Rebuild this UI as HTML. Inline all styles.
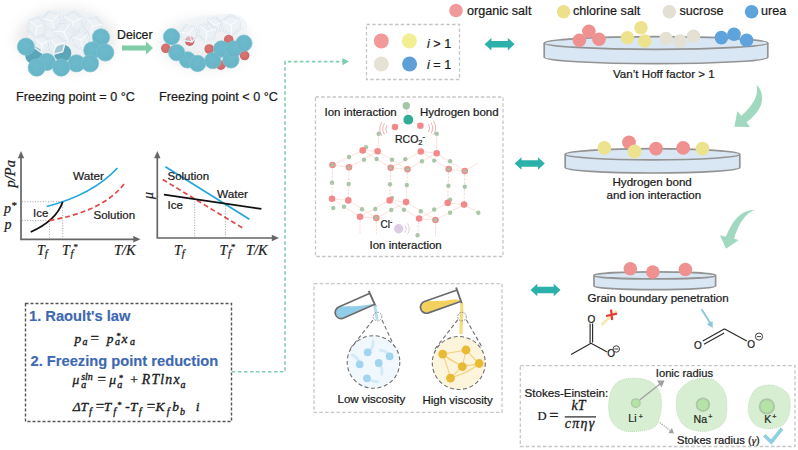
<!DOCTYPE html>
<html><head><meta charset="utf-8">
<style>
html,body{margin:0;padding:0;background:#fff;width:798px;height:450px;overflow:hidden}
svg{display:block}
text{font-family:"Liberation Sans",sans-serif;fill:#1a1a1a;stroke:#1a1a1a;stroke-width:0.22px}
.m{font-family:"Liberation Serif",serif;font-style:italic}
.mth text{stroke:#1a1a1a;stroke-width:0.35px}
</style></head><body>
<svg width="798" height="450" viewBox="0 0 798 450">
<defs>
<marker id="ga" viewBox="0 0 10 10" refX="9" refY="5" markerWidth="6" markerHeight="6" orient="auto"><path d="M0,0L10,5L0,10z" fill="#7fcfae"/></marker>
<filter id="blur6" x="-50%" y="-50%" width="200%" height="200%"><feGaussianBlur stdDeviation="6"/></filter>
<filter id="blur1" x="-20%" y="-20%" width="140%" height="140%"><feGaussianBlur stdDeviation="0.6"/></filter>
<radialGradient id="disc" cx="45%" cy="40%" r="65%"><stop offset="0" stop-color="#6cbacb"/><stop offset="0.85" stop-color="#67b5c6"/><stop offset="1" stop-color="#5aa6b8"/></radialGradient>
<radialGradient id="discb" cx="40%" cy="35%" r="70%"><stop offset="0" stop-color="#4f9fb2"/><stop offset="1" stop-color="#45909f"/></radialGradient>
<radialGradient id="red" cx="45%" cy="40%" r="65%"><stop offset="0" stop-color="#dc7676"/><stop offset="1" stop-color="#cc6464"/></radialGradient>
</defs>


<!-- ===== ice images ===== -->
<g filter="url(#blur6)" opacity="0.3">
<ellipse cx="66" cy="40" rx="50" ry="32" fill="#bdbdbd"/>
<ellipse cx="206" cy="44" rx="46" ry="26" fill="#c4c4c4"/>
</g>
<g id="ice1">
<path d="M28,30C27,18 42,10 58,10C74,8 92,11 101,19C107,28 104,44 96,52C84,59 50,59 37,54C30,48 29,38 28,30Z" fill="#edf2f6" opacity="0.8"/>
<circle cx="33.8" cy="55.4" r="8.6" fill="#5aa5b7"/>
<circle cx="62.7" cy="53.2" r="8.6" fill="#5aa5b7"/>
<path d="M44.7,33.4 L35.3,36.8 L27.6,30.4 L29.3,20.6 L38.7,17.2 L46.4,23.6Z" fill="#e9f0f5" fill-opacity="0.4" stroke="#c9d8e4" stroke-width="1.6"/><path d="M44.7,33.4 L35.3,36.8 L27.6,30.4 L29.3,20.6 L38.7,17.2 L46.4,23.6ZM37.0,27.0L35.3,36.8M37.0,27.0L29.3,20.6M37.0,27.0L46.4,23.6" stroke="#ffffff" stroke-width="0.8" fill="none"/>
<path d="M61.7,23.6 L54.6,30.7 L44.9,28.1 L42.3,18.4 L49.4,11.3 L59.1,13.9Z" fill="#e9f0f5" fill-opacity="0.5" stroke="#c9d8e4" stroke-width="1.6"/><path d="M61.7,23.6 L54.6,30.7 L44.9,28.1 L42.3,18.4 L49.4,11.3 L59.1,13.9ZM52.0,21.0L54.6,30.7M52.0,21.0L42.3,18.4M52.0,21.0L59.1,13.9" stroke="#ffffff" stroke-width="0.8" fill="none"/>
<path d="M81.6,28.0 L72.1,32.5 L63.5,26.4 L64.4,16.0 L73.9,11.5 L82.5,17.6Z" fill="#e9f0f5" fill-opacity="0.5" stroke="#c9d8e4" stroke-width="1.6"/><path d="M81.6,28.0 L72.1,32.5 L63.5,26.4 L64.4,16.0 L73.9,11.5 L82.5,17.6ZM73.0,22.0L72.1,32.5M73.0,22.0L64.4,16.0M73.0,22.0L82.5,17.6" stroke="#ffffff" stroke-width="0.8" fill="none"/>
<path d="M99.1,33.3 L89.8,34.9 L83.6,27.6 L86.9,18.7 L96.2,17.1 L102.4,24.4Z" fill="#e9f0f5" fill-opacity="0.4" stroke="#c9d8e4" stroke-width="1.6"/><path d="M99.1,33.3 L89.8,34.9 L83.6,27.6 L86.9,18.7 L96.2,17.1 L102.4,24.4ZM93.0,26.0L89.8,34.9M93.0,26.0L86.9,18.7M93.0,26.0L102.4,24.4" stroke="#ffffff" stroke-width="0.8" fill="none"/>
<path d="M74.5,32.9 L68.4,41.5 L58.0,40.6 L53.5,31.1 L59.6,22.5 L70.0,23.4Z" fill="#e9f0f5" fill-opacity="0.5" stroke="#c9d8e4" stroke-width="1.6"/><path d="M74.5,32.9 L68.4,41.5 L58.0,40.6 L53.5,31.1 L59.6,22.5 L70.0,23.4ZM64.0,32.0L68.4,41.5M64.0,32.0L53.5,31.1M64.0,32.0L70.0,23.4" stroke="#ffffff" stroke-width="0.8" fill="none"/>
<path d="M62.7,51.7 L53.5,54.2 L46.8,47.5 L49.3,38.3 L58.5,35.8 L65.2,42.5Z" fill="#e9f0f5" fill-opacity="0.5" stroke="#c9d8e4" stroke-width="1.6"/><path d="M62.7,51.7 L53.5,54.2 L46.8,47.5 L49.3,38.3 L58.5,35.8 L65.2,42.5ZM56.0,45.0L53.5,54.2M56.0,45.0L49.3,38.3M56.0,45.0L65.2,42.5" stroke="#ffffff" stroke-width="0.8" fill="none"/>
<path d="M89.5,43.1 L82.6,48.9 L74.1,45.8 L72.5,36.9 L79.4,31.1 L87.9,34.2Z" fill="#e9f0f5" fill-opacity="0.5" stroke="#c9d8e4" stroke-width="1.6"/><path d="M89.5,43.1 L82.6,48.9 L74.1,45.8 L72.5,36.9 L79.4,31.1 L87.9,34.2ZM81.0,40.0L82.6,48.9M81.0,40.0L72.5,36.9M81.0,40.0L87.9,34.2" stroke="#ffffff" stroke-width="0.8" fill="none"/>
<path d="M49.0,48.9 L41.3,52.5 L34.3,47.6 L35.0,39.1 L42.7,35.5 L49.7,40.4Z" fill="#e9f0f5" fill-opacity="0.35" stroke="#c9d8e4" stroke-width="1.6"/><path d="M49.0,48.9 L41.3,52.5 L34.3,47.6 L35.0,39.1 L42.7,35.5 L49.7,40.4ZM42.0,44.0L41.3,52.5M42.0,44.0L35.0,39.1M42.0,44.0L49.7,40.4" stroke="#ffffff" stroke-width="0.8" fill="none"/>
<circle cx="101" cy="37.3" r="8.6" fill="url(#disc)" stroke="#80c3d2" stroke-width="0.7"/>
<circle cx="92.3" cy="50.3" r="8.6" fill="url(#disc)" stroke="#80c3d2" stroke-width="0.7"/>
<circle cx="105.3" cy="52.5" r="8.6" fill="url(#disc)" stroke="#80c3d2" stroke-width="0.7"/>
<circle cx="25.9" cy="46.7" r="8.6" fill="url(#disc)" stroke="#80c3d2" stroke-width="0.7"/>
<circle cx="46.8" cy="61.9" r="8.6" fill="url(#disc)" stroke="#80c3d2" stroke-width="0.7"/>
<circle cx="36.7" cy="67.6" r="8.6" fill="url(#disc)" stroke="#80c3d2" stroke-width="0.7"/>
<circle cx="76.4" cy="63.3" r="8.6" fill="url(#disc)" stroke="#80c3d2" stroke-width="0.7"/>
<circle cx="90.1" cy="63.3" r="8.6" fill="url(#disc)" stroke="#80c3d2" stroke-width="0.7"/>
<circle cx="61.2" cy="67.6" r="8.6" fill="url(#disc)" stroke="#80c3d2" stroke-width="0.7"/>
</g><g id="ice2">
<path d="M178,30C182,19 200,15 215,15C228,12 242,14 246,21C250,31 240,41 230,45C215,54 190,54 180,45C176,40 176,34 178,30Z" fill="#eef3f7" opacity="0.7"/>
<circle cx="189.7" cy="41.1" r="4.8" fill="url(#red)"/><circle cx="209.2" cy="49" r="4.8" fill="url(#red)"/><circle cx="228.7" cy="39.6" r="4.8" fill="url(#red)"/>
<path d="M219.7,30.7 L211.9,32.7 L206.3,27.1 L208.3,19.3 L216.1,17.3 L221.7,22.9Z" fill="#e9f0f5" fill-opacity="0.35" stroke="#c9d8e4" stroke-width="1.6"/><path d="M219.7,30.7 L211.9,32.7 L206.3,27.1 L208.3,19.3 L216.1,17.3 L221.7,22.9ZM214.0,25.0L211.9,32.7M214.0,25.0L208.3,19.3M214.0,25.0L221.7,22.9" stroke="#ffffff" stroke-width="0.8" fill="none"/>
<path d="M197.9,35.1 L192.1,42.0 L183.2,40.4 L180.1,31.9 L185.9,25.0 L194.8,26.6Z" fill="#e9f0f5" fill-opacity="0.5" stroke="#c9d8e4" stroke-width="1.6"/><path d="M197.9,35.1 L192.1,42.0 L183.2,40.4 L180.1,31.9 L185.9,25.0 L194.8,26.6ZM189.0,33.5L192.1,42.0M189.0,33.5L180.1,31.9M189.0,33.5L194.8,26.6" stroke="#ffffff" stroke-width="0.8" fill="none"/>
<path d="M214.3,38.1 L205.4,41.4 L198.1,35.2 L199.7,25.9 L208.6,22.6 L215.9,28.8Z" fill="#e9f0f5" fill-opacity="0.5" stroke="#c9d8e4" stroke-width="1.6"/><path d="M214.3,38.1 L205.4,41.4 L198.1,35.2 L199.7,25.9 L208.6,22.6 L215.9,28.8ZM207.0,32.0L205.4,41.4M207.0,32.0L199.7,25.9M207.0,32.0L215.9,28.8" stroke="#ffffff" stroke-width="0.8" fill="none"/>
<path d="M240.1,29.2 L231.9,35.0 L222.8,30.7 L221.9,20.8 L230.1,15.0 L239.2,19.3Z" fill="#e9f0f5" fill-opacity="0.5" stroke="#c9d8e4" stroke-width="1.6"/><path d="M240.1,29.2 L231.9,35.0 L222.8,30.7 L221.9,20.8 L230.1,15.0 L239.2,19.3ZM231.0,25.0L231.9,35.0M231.0,25.0L221.9,20.8M231.0,25.0L239.2,19.3" stroke="#ffffff" stroke-width="0.8" fill="none"/>
<circle cx="165.8" cy="48.3" r="4.8" fill="url(#red)"/>
<circle cx="244.6" cy="55.5" r="4.8" fill="url(#red)"/>
<circle cx="220.8" cy="65.2" r="4.8" fill="url(#red)"/>
<circle cx="187.5" cy="59.9" r="8.2" fill="url(#disc)" stroke="#80c3d2" stroke-width="0.7"/>
<circle cx="171.6" cy="36.7" r="8.2" fill="url(#disc)" stroke="#80c3d2" stroke-width="0.7"/>
<circle cx="176.7" cy="52.6" r="8.2" fill="url(#disc)" stroke="#80c3d2" stroke-width="0.7"/>
<circle cx="197.6" cy="63.5" r="8.2" fill="url(#disc)" stroke="#80c3d2" stroke-width="0.7"/>
<circle cx="221.5" cy="49" r="8.2" fill="url(#disc)" stroke="#80c3d2" stroke-width="0.7"/>
<circle cx="212.8" cy="60.6" r="8.2" fill="url(#disc)" stroke="#80c3d2" stroke-width="0.7"/>
<circle cx="230.9" cy="59.9" r="8.2" fill="url(#disc)" stroke="#80c3d2" stroke-width="0.7"/>
<circle cx="233.8" cy="49" r="8.2" fill="url(#disc)" stroke="#80c3d2" stroke-width="0.7"/>
<circle cx="243.9" cy="43.2" r="8.2" fill="url(#disc)" stroke="#80c3d2" stroke-width="0.7"/>
</g>
<!-- ===== top-left texts ===== -->
<text x="16" y="101" font-size="12.6">Freezing point = 0 °C</text>
<text x="159" y="101" font-size="12.6">Freezing point &lt; 0 °C</text>
<text x="117" y="39" font-size="12.3">Deicer</text>
<path d="M122,45.5H146V41.5L153,48L146,54.5V50.5H122Z" fill="#7fcca6"/>

<!-- ===== plot 1 ===== -->
<g stroke="#999" stroke-width="0.9" fill="none" stroke-dasharray="1,1.6">
<path d="M22,201.7H62.7M22,220.6H49.4M49.4,221V238.5M62.7,202V238.5"/>
</g>
<g stroke="#666" stroke-width="1.7" fill="none"><path d="M21,156V239.3H135"/></g>
<path d="M21,151L17.8,158.2H24.2Z" fill="#666"/>
<path d="M140.5,239.3L133.3,236.1V242.5Z" fill="#666"/>
<path d="M46.7,206.5C72,200 98,189 117.4,168" fill="none" stroke="#25a7da" stroke-width="1.8"/>
<path d="M30.7,232C42,227 57,218 62.7,202" fill="none" stroke="#111" stroke-width="1.8"/>
<path d="M49.4,220.6C80,215 108,205 124,184" fill="none" stroke="#e04848" stroke-width="1.7" stroke-dasharray="5,3"/>
<text x="73" y="179.5" font-size="11.8">Water</text>
<text x="33" y="217.4" font-size="11.5">Ice</text>
<text x="93.5" y="218.7" font-size="11.5">Solution</text>
<text class="m" transform="translate(14.5,187.5) rotate(-90)" font-size="14.5">p/Pa</text>
<text class="m" x="4" y="212.5" font-size="14">p<tspan dy="-4" font-size="11">*</tspan></text>
<text class="m" x="4.5" y="228.7" font-size="14">p</text>
<text class="m" x="37" y="254.5" font-size="14">T<tspan dy="2" font-size="10.5">f</tspan></text>
<text class="m" x="62" y="254.5" font-size="14">T</text><text class="m" x="70.5" y="256.5" font-size="10.5">f</text><text class="m" x="73.5" y="250" font-size="9" style="font-style:normal">*</text>
<text class="m" x="114" y="254.5" font-size="14.3">T/K</text>

<!-- ===== plot 2 ===== -->
<g stroke="#999" stroke-width="0.9" fill="none" stroke-dasharray="1,1.6">
<path d="M194.7,199V237.5M225.4,203V237.5"/>
</g>
<g stroke="#666" stroke-width="1.7" fill="none"><path d="M157.3,156V238H274"/></g>
<path d="M157.3,151L154.1,158.2H160.5Z" fill="#666"/>
<path d="M279,238L271.8,234.8V241.2Z" fill="#666"/>
<path d="M165.4,166.7L249.4,219.3" fill="none" stroke="#25a7da" stroke-width="1.8"/>
<path d="M162.7,179.5L242.7,228" fill="none" stroke="#e04848" stroke-width="1.7" stroke-dasharray="5,3"/>
<path d="M164,194.7L261.4,208.9" fill="none" stroke="#111" stroke-width="1.8"/>
<text x="167.5" y="180" font-size="11.5">Solution</text>
<text x="217" y="198" font-size="11.8">Water</text>
<text x="167.5" y="209" font-size="11.5">Ice</text>
<text class="m" transform="translate(152.5,199) rotate(-90)" font-size="14">μ</text>
<text class="m" x="174" y="254.5" font-size="14">T<tspan dy="2" font-size="10.5">f</tspan></text>
<text class="m" x="219.5" y="254.5" font-size="14">T</text><text class="m" x="228" y="256.5" font-size="10.5">f</text><text class="m" x="231" y="250" font-size="9" style="font-style:normal">*</text>
<text class="m" x="246" y="254.5" font-size="14.3">T/K</text>

<!-- ===== formula box ===== -->
<rect x="25.5" y="303.5" width="206" height="118" fill="none" stroke="#555" stroke-width="1.4" stroke-dasharray="3,2"/>
<text x="29" y="321.4" font-size="14.7" font-weight="bold" style="fill:#3d68b2;stroke:#3d68b2;stroke-width:0.15px">1. Raoult's law</text>
<text x="30.5" y="365.5" font-size="14.7" font-weight="bold" style="fill:#3d68b2;stroke:#3d68b2;stroke-width:0.15px">2. Freezing point reduction</text>
<g class="mth">
<text class="m" x="74.5" y="342.8" font-size="13.5">p</text>
<text class="m" x="82.6" y="345.3" font-size="10">a</text>
<text class="m" x="90.5" y="342.8" font-size="15" style="font-style:normal">=</text>
<text class="m" x="106.8" y="342.8" font-size="13.5">p</text>
<text class="m" x="116.5" y="339" font-size="8.5" style="font-style:normal">*</text>
<text class="m" x="115" y="345.3" font-size="10">a</text>
<text class="m" x="121.6" y="342.8" font-size="13.5">x</text>
<text class="m" x="130" y="345.3" font-size="10">a</text>

<text class="m" x="72.5" y="384.4" font-size="13.5">μ</text>
<text class="m" x="81.2" y="388" font-size="10">a</text>
<text class="m" x="81.2" y="379.6" font-size="10">sln</text>
<text class="m" x="97.5" y="384.4" font-size="15" style="font-style:normal">=</text>
<text class="m" x="109.3" y="384.4" font-size="13.5">μ</text>
<text class="m" x="119" y="381" font-size="8.5" style="font-style:normal">*</text>
<text class="m" x="117.3" y="388" font-size="10">a</text>
<text class="m" x="130.3" y="384.4" font-size="13.5" style="font-style:normal">+</text>
<text class="m" x="141.8" y="384.4" font-size="13.8" letter-spacing="1.2">RTlnx</text>
<text class="m" x="180.5" y="388" font-size="10">a</text>

<text class="m" x="72.7" y="411.1" font-size="13.5">ΔT</text>
<text class="m" x="89" y="414.5" font-size="10">f</text>
<text class="m" x="95.7" y="411.1" font-size="15" style="font-style:normal">=</text>
<text class="m" x="103.8" y="411.1" font-size="13.5">T</text>
<text class="m" x="117.6" y="407.5" font-size="8.5" style="font-style:normal">*</text>
<text class="m" x="113.3" y="414.5" font-size="10">f</text>
<text class="m" x="125.3" y="411.1" font-size="13.5" style="font-style:normal">-</text>
<text class="m" x="130" y="411.1" font-size="13.5">T</text>
<text class="m" x="138.8" y="414.5" font-size="10">f</text>
<text class="m" x="146.8" y="411.1" font-size="15" style="font-style:normal">=</text>
<text class="m" x="155.5" y="411.1" font-size="13.5">K</text>
<text class="m" x="166.8" y="414.5" font-size="10">f</text>
<text class="m" x="172.2" y="411.1" font-size="13.5">b</text>
<text class="m" x="180" y="414.5" font-size="10">b</text>
<text class="m" x="195.8" y="411.1" font-size="13.5">i</text>
</g>

<!-- ===== green dashed connector ===== -->
<path d="M232,371.7H285V61.6H343" fill="none" stroke="#7fcfae" stroke-width="1.6" stroke-dasharray="3.5,2.5"/>
<path d="M342.5,58L349,61.6L342.5,65.2Z" fill="#7fcfae"/>

<!-- ===== legend top ===== -->
<circle cx="456" cy="10.5" r="6.8" fill="#f09a9a"/>
<text x="467" y="15" font-size="12.6">organic salt</text>
<circle cx="563.6" cy="11.8" r="6.8" fill="#ede08c"/>
<text x="573" y="15" font-size="12.6">chlorine salt</text>
<circle cx="669.4" cy="11.8" r="6.8" fill="#e3dfd2"/>
<text x="679.5" y="15" font-size="12.6">sucrose</text>
<circle cx="751.6" cy="11.8" r="6.8" fill="#5ea3dc"/>
<text x="761" y="15" font-size="12.6">urea</text>

<!-- ===== i box ===== -->
<rect x="366.5" y="24.5" width="93" height="55" fill="none" stroke="#c6c6c6" stroke-width="1.3" stroke-dasharray="3.5,2.2"/>
<circle cx="381.3" cy="40.9" r="7.5" fill="#f29a9a"/>
<circle cx="409.4" cy="40.9" r="7.5" fill="#f2ee92"/>
<circle cx="381.3" cy="64" r="7.5" fill="#e6e2d6"/>
<circle cx="409.6" cy="64" r="7.5" fill="#5f9fd8"/>
<text x="427" y="47.6" font-size="12.6"><tspan font-style="italic">i</tspan> &gt; 1</text>
<text x="427" y="69" font-size="12.6"><tspan font-style="italic">i</tspan> = 1</text>

<!-- teal double arrows -->
<path d="M484.6,44.2L491.40000000000003,37.900000000000006V41.0H507.8V37.900000000000006L514.6,44.2L507.8,50.5V47.400000000000006H491.40000000000003V50.5Z" fill="#2cb0aa"/>
<path d="M514.7,163.5L521.5,157.2V160.3H538.0V157.2L544.8,163.5L538.0,169.8V166.7H521.5V169.8Z" fill="#2cb0aa"/>
<path d="M530.5,290L537.3,283.7V286.8H553.7V283.7L560.5,290L553.7,296.3V293.2H537.3V296.3Z" fill="#2cb0aa"/>

<!-- ===== dishes ===== -->
<g stroke="#939393" stroke-width="1.7" fill="#d9e7f4">
<path d="M544.2,43V57.3A111.8,6.3 0 0 0 767.8,57.3V43"/>
<ellipse cx="656" cy="43" rx="111.8" ry="6.3"/>
<path d="M565.2,154.3V167.5A87.3,5.5 0 0 0 739.8,167.5V154.3"/>
<ellipse cx="652.5" cy="154.3" rx="87.3" ry="5.6"/>
<path d="M594,275.4V286A60.8,3.6 0 0 0 715.6,286V275.4"/>
<ellipse cx="654.8" cy="275.4" rx="60.8" ry="3.5"/>
</g>

<!-- dish balls -->
<g>
<circle cx="579.4" cy="40.3" r="6.8" fill="#ef9191"/>
<circle cx="588.9" cy="31.3" r="6.8" fill="#ef9191"/>
<circle cx="599" cy="39.2" r="6.8" fill="#ef9191"/>
<circle cx="627.5" cy="37.7" r="6.8" fill="#ede28e"/>
<circle cx="641" cy="27.8" r="6.8" fill="#ede28e"/>
<circle cx="644.8" cy="41" r="6.8" fill="#ede28e"/>
<circle cx="666" cy="38.6" r="6.8" fill="#e4e0d3"/>
<circle cx="693.5" cy="36.3" r="6.8" fill="#e4e0d3"/>
<circle cx="680" cy="41" r="6.8" fill="#e4e0d3"/>
<circle cx="721.4" cy="37.6" r="6.8" fill="#5fa3dc"/>
<circle cx="734" cy="34.3" r="6.8" fill="#5fa3dc"/>
<circle cx="746.6" cy="40.3" r="6.8" fill="#5fa3dc"/>

<circle cx="604.3" cy="147.9" r="6.9" fill="#ede28e"/>
<circle cx="629" cy="142.4" r="6.9" fill="#ef9191"/>
<circle cx="634.6" cy="151.5" r="6.9" fill="#ede28e"/>
<circle cx="656" cy="148.7" r="6.9" fill="#ef9191"/>
<circle cx="683.2" cy="147.9" r="6.9" fill="#ef9191"/>
<circle cx="702.5" cy="148.7" r="6.9" fill="#ede28e"/>

<circle cx="630.3" cy="268.8" r="6.8" fill="#ef9191"/>
<circle cx="652.8" cy="272" r="6.8" fill="#ef9191"/>
<circle cx="685.4" cy="269.5" r="6.8" fill="#ef9191"/>
</g>
<text x="613" y="77.5" font-size="11.6">Van’t Hoff factor &gt; 1</text>
<text x="612.5" y="186.2" font-size="11.6">Hydrogen bond</text>
<text x="606.5" y="199.2" font-size="11.6">and ion interaction</text>
<text x="587.5" y="302" font-size="11.6">Grain boundary penetration</text>

<!-- ===== lattice box ===== -->
<rect x="315.5" y="97" width="187.5" height="159.5" fill="none" stroke="#c6c6c6" stroke-width="1.3" stroke-dasharray="3.5,2.2"/>
<!-- ===== lattice ===== -->
<g stroke="#f7d3c8" stroke-width="0.9" fill="none" stroke-dasharray="2.2,1.4"><path d="M332.5,165L332,198.7 M349,167.3L348.3,200.4 M390.7,167.7L389.6,200.4 M407.5,169.2L406.1,202.1 M448.7,169.1L447.7,202.9 M464.8,171.1L464.1,204.6 M360,216.7L360,234 M376.3,218L376.3,234 M419.1,218.5L417.6,235 M435.5,220L435.5,236"/></g>
<g stroke="#f9ddd3" stroke-width="0.85" fill="none">
<path d="M332.5,165L362.7,150.4 M349,167.3L377.6,151.3 M362.7,150.4L390.7,167.7 M377.6,151.3L407.5,169.2 M390.7,167.7L420.8,151.5 M407.5,169.2L436.7,153.2 M420.8,151.5L448.7,169.1 M436.7,153.2L464.8,171.1 M332.5,165L349,167.3 M362.7,150.4L377.6,151.3 M420.8,151.5L436.7,153.2 M390.7,167.7L407.5,169.2 M448.7,169.1L464.8,171.1 M332,198.7L360,216.7 M348.3,200.4L376.3,218 M360,216.7L389.6,200.4 M376.3,218L406.1,202.1 M389.6,200.4L419.1,218.5 M406.1,202.1L435.5,220 M419.1,218.5L447.7,202.9 M435.5,220L464.1,204.6 M332,198.7L348.3,200.4 M389.6,200.4L406.1,202.1 M447.7,202.9L464.1,204.6 M360,216.7L376.3,218 M419.1,218.5L435.5,220 M377.6,151.3L378.7,133.7 M436.7,153.2L436.7,133.7 M464.8,171.1L478.3,163 M464.1,204.6L478.3,212.7 M406.3,105.7L408.3,119.7M408.3,119.7L395,127M408.3,119.7L420.4,125.7"/>
</g>
<g fill="#a9c6a8">
<circle cx="366" cy="147.3" r="2.2"/>
<circle cx="349" cy="157" r="2.2"/>
<circle cx="364" cy="159.7" r="2.2"/>
<circle cx="376.7" cy="159" r="2.2"/>
<circle cx="392" cy="159.7" r="2.2"/>
<circle cx="405.3" cy="159.3" r="2.2"/>
<circle cx="422" cy="161.3" r="2.2"/>
<circle cx="434.2" cy="160.6" r="2.2"/>
<circle cx="450.1" cy="161.3" r="2.2"/>
<circle cx="332" cy="182.7" r="2.2"/>
<circle cx="348.7" cy="184" r="2.2"/>
<circle cx="390" cy="184.3" r="2.2"/>
<circle cx="406.8" cy="185" r="2.2"/>
<circle cx="448.4" cy="185.8" r="2.2"/>
<circle cx="464.8" cy="186.7" r="2.2"/>
<circle cx="333.3" cy="208" r="2.2"/>
<circle cx="344" cy="206.7" r="2.2"/>
<circle cx="362" cy="209.3" r="2.2"/>
<circle cx="375.3" cy="209" r="2.2"/>
<circle cx="391.3" cy="210" r="2.2"/>
<circle cx="404" cy="209.7" r="2.2"/>
<circle cx="420.8" cy="211.2" r="2.2"/>
<circle cx="434.2" cy="209.5" r="2.2"/>
<circle cx="450.1" cy="212.7" r="2.2"/>
<circle cx="478.3" cy="212.7" r="2.2"/>
<circle cx="392" cy="198" r="2.2"/>
<circle cx="450.1" cy="199.7" r="2.2"/>
<circle cx="417.6" cy="235.2" r="2.2"/>
<circle cx="378.7" cy="133.7" r="2.2"/>
<circle cx="436.7" cy="133.7" r="2.2"/>
</g><g fill="#f28a8c">
<circle cx="362.7" cy="150.4" r="3.3"/>
<circle cx="377.6" cy="151.3" r="3.3"/>
<circle cx="420.8" cy="151.5" r="3.3"/>
<circle cx="436.7" cy="153.2" r="3.3"/>
<circle cx="332.5" cy="165" r="3.3"/>
<circle cx="349" cy="167.3" r="3.3"/>
<circle cx="390.7" cy="167.7" r="3.3"/>
<circle cx="407.5" cy="169.2" r="3.3"/>
<circle cx="448.7" cy="169.1" r="3.3"/>
<circle cx="464.8" cy="171.1" r="3.3"/>
<circle cx="332" cy="198.7" r="3.3"/>
<circle cx="348.3" cy="200.4" r="3.3"/>
<circle cx="389.6" cy="200.4" r="3.3"/>
<circle cx="406.1" cy="202.1" r="3.3"/>
<circle cx="447.7" cy="202.9" r="3.3"/>
<circle cx="464.1" cy="204.6" r="3.3"/>
<circle cx="360" cy="216.7" r="3.3"/>
<circle cx="376.3" cy="218" r="3.3"/>
<circle cx="419.1" cy="218.5" r="3.3"/>
<circle cx="435.5" cy="220" r="3.3"/>
</g><g fill="#a9bfa0">
<circle cx="332.5" cy="165" r="1.9"/>
<circle cx="349" cy="167.3" r="1.9"/>
<circle cx="390.7" cy="167.7" r="1.9"/>
<circle cx="407.5" cy="169.2" r="1.9"/>
<circle cx="448.7" cy="169.1" r="1.9"/>
<circle cx="464.8" cy="171.1" r="1.9"/>
<circle cx="376.3" cy="218" r="1.9"/>
<circle cx="435.5" cy="220" r="1.9"/>
</g>
<circle cx="406.3" cy="105.7" r="3.7" fill="#a2c6a5"/>
<circle cx="408.3" cy="119.7" r="4.9" fill="#31ad97"/>
<circle cx="395" cy="127" r="3.3" fill="#f28a8c"/>
<circle cx="420.4" cy="125.7" r="3.3" fill="#f28a8c"/>
<g fill="none" stroke="#eea0a0" stroke-width="0.8">
<path d="M387,125Q384.5,129 387,133M384.5,123.5Q381,129 384.5,134.5M382,122Q377.5,129 382,136"/>
<path d="M428.5,124Q431,128 428.5,132M431,122.5Q434.5,128 431,133.5M433.5,121Q438,128 433.5,135"/>
</g>
<text x="395" y="142.7" font-size="10.5">RCO<tspan dy="2.5" font-size="7.5">2</tspan><tspan dy="-6" font-size="7.5">-</tspan></text>
<text x="380.5" y="228.4" font-size="10">Cl<tspan dy="-4" font-size="7">-</tspan></text>
<circle cx="398.7" cy="228.7" r="4.7" fill="#dccce6"/>
<g fill="none" stroke="#d9c3e0" stroke-width="0.8">
<path d="M405,225Q407.5,229 405,233M407.5,223.5Q411,229 407.5,234.5"/>
</g>

<text x="324.5" y="116" font-size="11.5">Ion interaction</text>
<text x="420" y="116" font-size="11.5">Hydrogen bond</text>
<text x="369.5" y="249.3" font-size="11.5">Ion interaction</text>

<!-- ===== viscosity box ===== -->
<rect x="314" y="283.7" width="188" height="128.7" fill="none" stroke="#c6c6c6" stroke-width="1.3" stroke-dasharray="3.5,2.2"/>
<text x="337.5" y="403" font-size="11.5">Low viscosity</text>
<text x="422.5" y="404" font-size="11.5">High viscosity</text>


<!-- ===== viscosity illustrations ===== -->
<g>
<!-- low: tube -->
<defs>
<linearGradient id="tailb" x1="0" y1="0" x2="1" y2="0"><stop offset="0" stop-color="#a9d8f0" stop-opacity="0.9"/><stop offset="1" stop-color="#d8eef9" stop-opacity="0"/></linearGradient>
</defs>
<g transform="translate(372.25,298.75) rotate(-24)">
<path d="M-0.5,5.3L-34,5.3A5.3,5.3 0 0 1 -34,-5.3L-31,-5.3C-25,-3 -16,2 -0.5,5.3Z" fill="#8fcde8"/>
<path d="M-0.5,-6H-34A6,6 0 0 0 -34,6H-0.5" fill="none" stroke="#6a6a6a" stroke-width="1.7"/>
<path d="M0,-8.7V8.7" stroke="#6a6a6a" stroke-width="1.9"/>
</g>
<path d="M374.5,305.5C376,310 376,316 377.5,320" stroke="#a8d8ee" stroke-width="3" fill="none" opacity="0.85"/>
<circle cx="377.5" cy="316.6" r="4.3" fill="none" stroke="#888" stroke-width="0.9" stroke-dasharray="1.6,1.2"/>
<path d="M373,320L350.5,348.5M382,320L394.5,347" stroke="#6c6c6c" stroke-width="1.1" stroke-dasharray="4,2.6" fill="none"/>
<circle cx="373.5" cy="362" r="26.3" fill="#f1f8fd" stroke="#6c6c6c" stroke-width="1.1" stroke-dasharray="4,2.6"/>
<g fill="none" stroke="#d3eaf7" stroke-linecap="round" stroke-width="3">
<path d="M367.7,352.3Q374,348 373,341"/>
<path d="M389.7,356.3Q386,350 380.3,350.3"/>
<path d="M359.7,364.3Q358,357 352.3,355"/>
<path d="M378.7,363Q383,368 381.7,374.3"/>
<path d="M367,378.3Q373,382 377.7,381.7"/>
</g>
<g fill="#a2d4ef">
<circle cx="367.7" cy="352.3" r="3.9"/><circle cx="389.7" cy="356.3" r="3.9"/><circle cx="359.7" cy="364.3" r="3.9"/>
<circle cx="378.7" cy="363" r="3.9"/><circle cx="367" cy="378.3" r="3.9"/>
</g>
<!-- high: tube -->
<g transform="translate(459,295.7) rotate(-19.5)">
<path d="M-0.5,5.3L-34.5,5.3A5.3,5.3 0 0 1 -34.5,-5.3L-31,-5.3C-26,-4 -20,-1 -12,0.5C-6,1.5 -2,3 -0.5,5.3Z" fill="#f4d05c"/>
<path d="M-0.5,-6H-34.5A6,6 0 0 0 -34.5,6H-0.5" fill="none" stroke="#6a6a6a" stroke-width="1.7"/>
<path d="M0,-8.7V8.7" stroke="#6a6a6a" stroke-width="1.9"/>
</g>
<path d="M461.5,303C462.5,310 461,318 461,334" stroke="#f5d770" stroke-width="3.2" fill="none" opacity="0.9"/>
<circle cx="462" cy="316.6" r="4.3" fill="none" stroke="#777" stroke-width="0.9" stroke-dasharray="1.6,1.2"/>
<path d="M457.8,319.7L435,349M466.3,319.7L482.5,348" stroke="#6c6c6c" stroke-width="1.1" stroke-dasharray="4,2.6" fill="none"/>
<circle cx="458.8" cy="363" r="26.5" fill="#fdf4dc" stroke="#6c6c6c" stroke-width="1.1" stroke-dasharray="4,2.6"/>
<g stroke="#f2d37e" stroke-width="1.1" fill="none">
<path d="M442.7,354.1L466,350L479.2,363.5L462.3,366.6L442.7,354.1M442.7,354.1Q460,370 479.2,363.5M450.5,378.1L462.3,366.6M450.5,378.1Q470,372 479.2,363.5M466,350L462.3,366.6M442.7,354.1Q448,368 450.5,378.1"/>
</g>
<g fill="#e9bb34">
<circle cx="442.7" cy="354.1" r="4.4"/><circle cx="466" cy="350" r="4.4"/><circle cx="462.3" cy="366.6" r="4.4"/>
<circle cx="479.2" cy="363.5" r="4.4"/><circle cx="450.5" cy="378.1" r="4.4"/>
</g>
</g>

<!-- ===== molecules ===== -->
<path d="M601.5,325L616.5,310.5" stroke="#f3e7a6" stroke-width="2.6" opacity="0.9"/>
<path d="M606,316L617,313.6M611,309.6L612.2,320" stroke="#e53a3a" stroke-width="2.2"/>
<g stroke="#2a2a2a" stroke-width="1.15" fill="none">
<path d="M590.1,323.5V343M592.6,323.5V342.5M591,343.3L571.1,354.5M591,343.3L607.2,352.1"/>
<path d="M702.8,340.9L724.2,329M704,344.3L724.2,333M724.2,328.7L746.8,340.9"/>
</g>
<g font-size="10" style="fill:#2a2a2a;stroke:#2a2a2a">
<text x="587.4" y="322.9">O</text>
<text x="607.2" y="357.3">O</text>
<text x="694.1" y="349.4">O</text>
<text x="747.2" y="348.2">O</text>
</g>
<circle cx="616.3" cy="349" r="3.2" fill="#fff" stroke="#2a2a2a" stroke-width="0.9"/>
<path d="M614.4,349H618.2" stroke="#2a2a2a" stroke-width="0.9"/>
<circle cx="759" cy="336.6" r="3.6" fill="#fff" stroke="#2a2a2a" stroke-width="0.9"/>
<path d="M756.9,336.6H761.1" stroke="#2a2a2a" stroke-width="0.9"/>
<path d="M701.6,309.2L710.8,324" stroke="#8cc8dc" stroke-width="1.9"/>
<path d="M706.8,324.2L712.8,328L712.6,321Z" fill="#8cc8dc"/>

<!-- ===== stokes ===== -->
<g fill="#d8eed3" stroke="#b5d8ae" stroke-width="0.8" stroke-dasharray="1,1">
<path d="M620.2,380.6C624.2,378.7 630.6,377.9 635.8,378.2C641.0,378.4 647.3,379.6 651.3,382.1C655.3,384.6 658.2,389.1 659.9,393.0C661.6,396.9 661.4,401.5 661.4,405.4C661.4,409.3 660.8,412.9 659.9,416.3C659.0,419.7 658.5,423.4 656.0,425.7C653.5,428.0 650.3,429.4 645.1,430.3C639.9,431.2 630.4,432.4 624.9,431.1C619.4,429.8 615.1,426.5 612.4,422.5C609.7,418.5 608.7,412.4 608.6,407.0C608.5,401.6 609.8,394.3 611.7,389.9C613.6,385.5 616.2,382.6 620.2,380.6Z"/>
<path d="M691.3,380.7C696.8,378.3 705.6,377.4 710.9,378.9C716.2,380.4 720.6,385.2 723.3,389.6C726.0,394.1 726.9,400.0 726.9,405.6C726.9,411.2 726.8,419.0 723.3,423.3C719.8,427.6 711.8,430.7 705.6,431.3C699.4,431.9 690.8,430.0 686.0,426.9C681.2,423.8 678.4,418.3 677.1,412.7C675.8,407.1 675.6,398.4 678.0,393.1C680.4,387.8 685.8,383.1 691.3,380.7Z"/>
<path d="M755.3,389.6C759.1,385.9 766.0,384.5 771.3,385.1C776.6,385.7 784.2,389.1 787.3,393.1C790.4,397.1 790.6,403.9 790.0,409.1C789.4,414.3 787.5,420.9 783.8,424.2C780.1,427.5 772.8,428.8 767.8,428.7C762.8,428.6 756.9,426.9 753.6,423.3C750.3,419.7 747.9,412.9 748.2,407.3C748.5,401.7 751.4,393.3 755.3,389.6Z"/>
</g>
<circle cx="635.8" cy="403.1" r="4.3" fill="#b5e3a6" stroke="#abc8a6" stroke-width="1.3"/>
<circle cx="702.9" cy="404.7" r="6.3" fill="#b5e3a6" stroke="#abc8a6" stroke-width="1.8"/>
<circle cx="766.9" cy="406.4" r="7.2" fill="#b5e3a6" stroke="#abc8a6" stroke-width="1.9"/>
<path d="M639.7,400L660,384" stroke="#a0a0a0" stroke-width="1.4"/>
<path d="M657,380.5L664.5,380.6L661.5,387.5Z" fill="#a0a0a0"/>
<path d="M659.9,422.5L670,430.5" stroke="#a0a0a0" stroke-width="1.1" stroke-dasharray="1.3,1.1"/>
<path d="M668.5,433L674,433.4L672,428Z" fill="#a0a0a0"/>
<text x="628.3" y="422.2" font-size="10.6" style="fill:#1c2a1c;stroke:#1c2a1c">Li</text><text x="638.8" y="418.5" font-size="7" style="fill:#1c2a1c;stroke:#1c2a1c">+</text>
<text x="693.5" y="423.3" font-size="10.6" style="fill:#1c2a1c;stroke:#1c2a1c">Na</text><text x="708.3" y="419.3" font-size="7" style="fill:#1c2a1c;stroke:#1c2a1c">+</text>
<text x="764.3" y="423" font-size="10.6" style="fill:#1c2a1c;stroke:#1c2a1c">K</text><text x="772.3" y="419" font-size="7" style="fill:#1c2a1c;stroke:#1c2a1c">+</text>
<path d="M764.2,435.2L771.3,442L782,428.7" stroke="#8fcfe4" stroke-width="3.6" fill="none" stroke-linejoin="miter"/>
<text class="m" x="537.5" y="420.1" font-size="12.6" style="font-style:normal">D</text>
<text class="m" x="549.3" y="421" font-size="16.5" style="font-style:normal;stroke-width:0.3px">=</text>
<path d="M564.8,416.9H596" stroke="#222" stroke-width="1.2"/>
<text class="m" x="571.5" y="410.4" font-size="14" style="stroke-width:0.3px">kT</text>
<text class="m" x="564.8" y="427.7" font-size="14" letter-spacing="1.3" style="stroke-width:0.3px">cπηγ</text>
<!-- ===== stokes box ===== -->
<rect x="520.3" y="365.6" width="274.7" height="80.9" fill="none" stroke="#c6c6c6" stroke-width="1.3" stroke-dasharray="3.5,2.2"/>
<text x="524.5" y="396.8" font-size="11.6">Stokes-Einstein:</text>
<text x="655.8" y="377" font-size="11.2">Ionic radius</text>
<text x="677" y="443.7" font-size="11.2">Stokes radius (<tspan class="m">γ</tspan>)</text>

<!-- curved green arrows -->
<path d="M756.7,84.7C763,91 764,101 759,109C756,114 751,119 746.5,122.3L750,127L734.4,126.7L737.3,111L741.3,115.8C746,112 751,106 754.5,100C757,95 757.5,90 756.7,84.7Z" fill="#a0d9c0"/>
<path d="M755.3,210C746,209 736,216 731,226C729,230 727,234 725.6,236.7L720,235.3L726,248.7L738.7,240L734,238.8C736,232 739,224 744,218C747,214 751,211 755.3,210Z" fill="#a0d9c0"/>
</svg>
</body></html>
